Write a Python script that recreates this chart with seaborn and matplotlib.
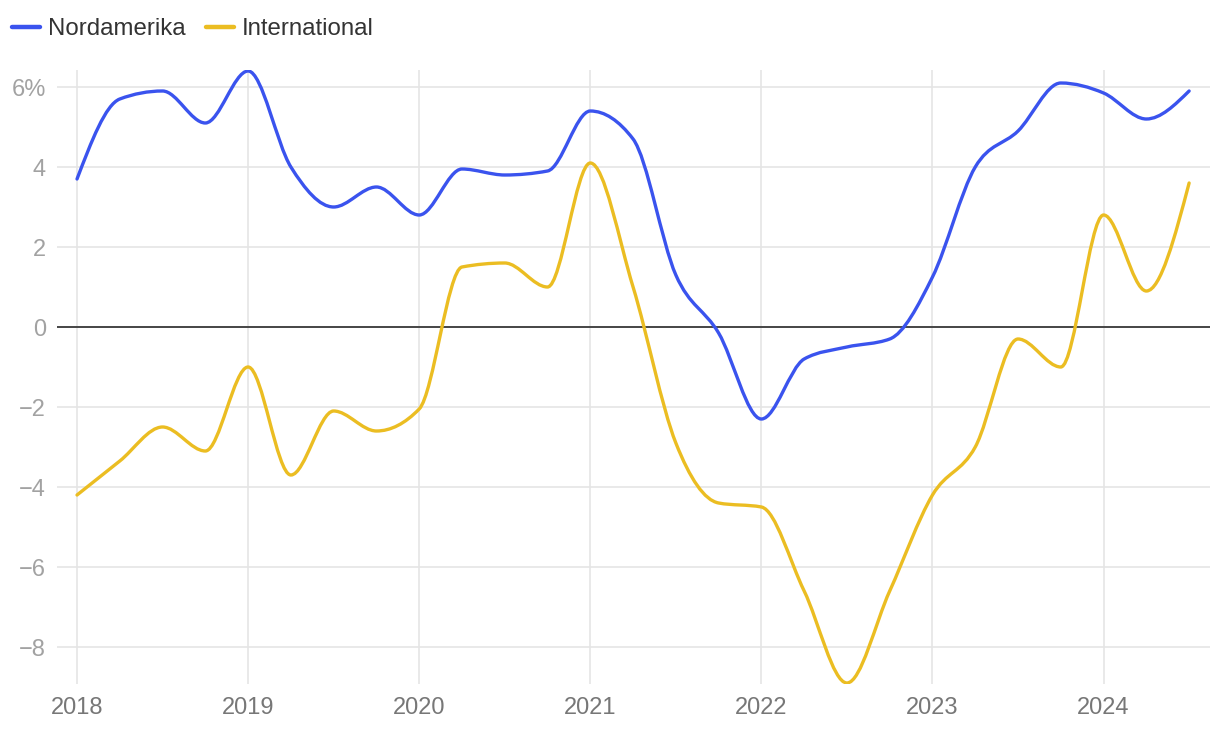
import numpy as np
import pandas as pd
import matplotlib
matplotlib.use("Agg")
import matplotlib.pyplot as plt
import seaborn as sns
from matplotlib.path import Path
from matplotlib.patches import PathPatch
from matplotlib.lines import Line2D

# ---------------- data ----------------
quarters = [2018.0, 2018.25, 2018.5, 2018.75, 2019.0, 2019.25, 2019.5, 2019.75,
            2020.0, 2020.25, 2020.5, 2020.75, 2021.0, 2021.25, 2021.5, 2021.75,
            2022.0, 2022.25, 2022.5, 2022.75, 2023.0, 2023.25, 2023.5, 2023.75,
            2024.0, 2024.25, 2024.5]
nordamerika = [3.7, 5.7, 5.9, 5.1, 6.4, 4.0, 3.0, 3.5,
               2.8, 3.95, 3.8, 3.9, 5.4, 4.7, 1.3, -0.15,
               -2.3, -0.8, -0.5, -0.3, 1.25, 4.0, 4.9, 6.1,
               5.85, 5.2, 5.9]
international = [-4.2, -3.35, -2.5, -3.1, -1.0, -3.7, -2.1, -2.6,
                 -2.05, 1.5, 1.6, 1.0, 4.1, 1.0, -2.9, -4.4,
                 -4.5, -6.6, -8.9, -6.6, -4.2, -3.0, -0.3, -1.0,
                 2.8, 0.9, 3.6]
series_names = ["Nordamerika", "International"]
series_colors = ["#3a53ee", "#ebbd22"]
x_ticks = [2018, 2019, 2020, 2021, 2022, 2023, 2024]
y_ticks = [-8, -6, -4, -2, 0, 2, 4, 6]
y_ticklabels = ["\u22128", "\u22126", "\u22124", "\u22122", "0", "2", "4", "6%"]

df = pd.DataFrame({
    "t": quarters * 2,
    "v": nordamerika + international,
    "series": [series_names[0]] * len(quarters) + [series_names[1]] * len(quarters),
})

# ---------------- helpers: d3 curveMonotoneX as bezier path ----------------
def monotone_path(x, y):
    x = np.asarray(x, float)
    y = np.asarray(y, float)
    n = len(x)
    h = np.diff(x)
    s = np.diff(y) / h
    t = np.zeros(n)
    for i in range(1, n - 1):
        h0, h1 = h[i - 1], h[i]
        s0, s1 = s[i - 1], s[i]
        p = (s0 * h1 + s1 * h0) / (h0 + h1)
        t[i] = (np.sign(s0) + np.sign(s1)) * min(abs(s0), abs(s1), 0.5 * abs(p))
    t[0] = (3 * s[0] - t[1]) / 2
    t[-1] = (3 * s[-1] - t[-2]) / 2
    verts = [(x[0], y[0])]
    codes = [Path.MOVETO]
    for i in range(n - 1):
        dx = (x[i + 1] - x[i]) / 3
        verts += [(x[i] + dx, y[i] + dx * t[i]),
                  (x[i + 1] - dx, y[i + 1] - dx * t[i + 1]),
                  (x[i + 1], y[i + 1])]
        codes += [Path.CURVE4] * 3
    return Path(verts, codes)

# ---------------- figure ----------------
sns.set_theme(style="whitegrid")
plt.rcParams["font.family"] = ["Liberation Sans", "DejaVu Sans"]

fig = plt.figure(figsize=(12.2, 7.3), dpi=100)
ax = fig.add_axes([57 / 1220, 1 - 684 / 730, (1210 - 57) / 1220, (684 - 70) / 730])
ax.set_facecolor("white")

sns.lineplot(data=df, x="t", y="v", hue="series", hue_order=series_names,
             palette=series_colors, ax=ax, legend=False, linewidth=2.2)

# replace straight segments by smooth monotone curves
for line, color in zip(list(ax.lines), series_colors):
    xd, yd = line.get_xdata(), line.get_ydata()
    line.set_visible(False)
    patch = PathPatch(monotone_path(xd, yd), facecolor="none", edgecolor=color,
                      linewidth=2.4, capstyle="round", joinstyle="round", zorder=3)
    ax.add_patch(patch)

ax.axhline(0, color="#2b2b2b", linewidth=1.2, zorder=2)

ax.set_xlim(2017.883, 2024.622)
ax.set_ylim(-8.925, 6.425)
ax.set_xticks(x_ticks)
ax.set_xticklabels([str(v) for v in x_ticks])
ax.set_yticks(y_ticks)
ax.set_yticklabels(y_ticklabels)
ax.grid(True, color="#e5e5e5", linewidth=1.2)
ax.set_axisbelow(True)
for sp in ax.spines.values():
    sp.set_visible(False)
ax.set_xlabel("")
ax.set_ylabel("")
ax.tick_params(axis="y", length=0, pad=8, labelsize=17, labelcolor="#a2a2a2")
ax.tick_params(axis="x", length=0, pad=9, labelsize=17, labelcolor="#777777")
for lbl in ax.get_yticklabels():
    lbl.set_horizontalalignment("right")

handles = [Line2D([0], [0], color=c, linewidth=3.2, solid_capstyle="round")
           for c in series_colors]
fig.legend(handles, series_names, loc="center left",
           bbox_to_anchor=(12 / 1220, 1 - 29 / 730), ncol=2, frameon=False,
           fontsize=17.3, handlelength=1.15, handletextpad=0.35, columnspacing=0.85,
           borderpad=0, borderaxespad=0, labelcolor="#333333")

fig.savefig("out.png", dpi=100, facecolor="white")
